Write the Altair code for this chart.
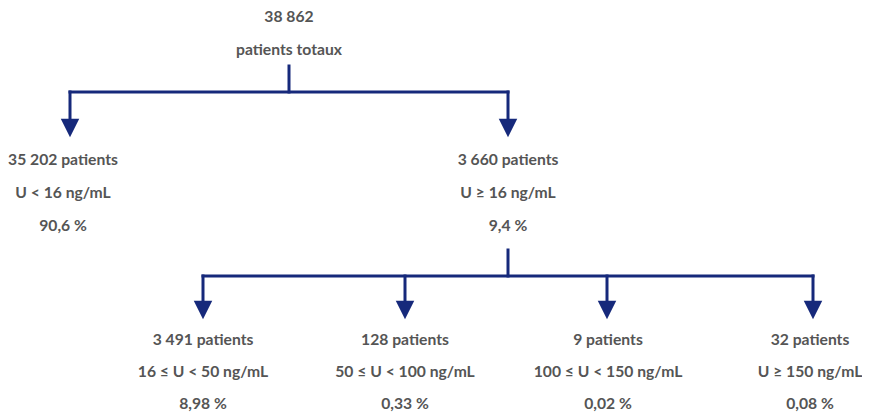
import altair as alt
import pandas as pd

# ---- data ----
root_count = "38 862"
root_label = "patients totaux"

level1_counts = ["35 202 patients", "3 660 patients"]
level1_ranges = ["U < 16 ng/mL", "U ≥ 16 ng/mL"]
level1_pcts = ["90,6 %", "9,4 %"]

level2_counts = ["3 491 patients", "128 patients", "9 patients", "32 patients"]
level2_ranges = ["16 ≤ U < 50 ng/mL", "50 ≤ U < 100 ng/mL", "100 ≤ U < 150 ng/mL", "U ≥ 150 ng/mL"]
level2_pcts = ["8,98 %", "0,33 %", "0,02 %", "0,08 %"]

# ---- layout (pixel-like coordinates of the diagram) ----
root_x = 289
l1_arrow_x = [70, 508]
l1_text_x = [63, 508]
l2_arrow_x = [203, 405, 607, 813]
l2_text_x = [203, 405, 608, 810]

root_text_y = [17, 50]
l1_text_y = [160, 193, 226]
l2_text_y = [340, 372, 404]

LINE = "#16297b"
TXT = "#555555"

segs = []
segs.append((root_x, 66, root_x, 92))
segs.append((l1_arrow_x[0], 92, l1_arrow_x[1], 92))
for x in l1_arrow_x:
    segs.append((x, 92, x, 119))
segs.append((l1_arrow_x[1], 250, l1_arrow_x[1], 276))
segs.append((l2_arrow_x[0], 276, l2_arrow_x[-1], 276))
for x in l2_arrow_x:
    segs.append((x, 276, x, 301))
seg_df = pd.DataFrame(segs, columns=["x", "y", "x2", "y2"])

heads = [(x, 128) for x in l1_arrow_x] + [(x, 310) for x in l2_arrow_x]
head_df = pd.DataFrame(heads, columns=["x", "y"])

texts = [(root_x, root_text_y[0], root_count), (root_x, root_text_y[1], root_label)]
for i, x in enumerate(l1_text_x):
    for y, t in zip(l1_text_y, [level1_counts[i], level1_ranges[i], level1_pcts[i]]):
        texts.append((x, y, t))
for i, x in enumerate(l2_text_x):
    for y, t in zip(l2_text_y, [level2_counts[i], level2_ranges[i], level2_pcts[i]]):
        texts.append((x, y, t))
text_df = pd.DataFrame(texts, columns=["x", "y", "label"])

xs = alt.Scale(domain=[8, 862], nice=False, zero=False)
ys = alt.Scale(domain=[8, 412], nice=False, zero=False, reverse=True)

rules = alt.Chart(seg_df).mark_rule(color=LINE, strokeWidth=3, strokeCap="square").encode(
    x=alt.X("x:Q", scale=xs, axis=None),
    y=alt.Y("y:Q", scale=ys, axis=None),
    x2="x2:Q",
    y2="y2:Q",
)

arrows = alt.Chart(head_df).mark_point(
    shape="M-1,-1L1,-1L0,1Z", size=340, filled=True, color=LINE, opacity=1, strokeWidth=0
).encode(
    x=alt.X("x:Q", scale=xs, axis=None),
    y=alt.Y("y:Q", scale=ys, axis=None),
)

labels = alt.Chart(text_df).mark_text(
    font="Lato", fontWeight="bold", fontSize=15.7, color=TXT, baseline="middle", align="center"
).encode(
    x=alt.X("x:Q", scale=xs, axis=None),
    y=alt.Y("y:Q", scale=ys, axis=None),
    text="label:N",
)

chart = alt.layer(rules, arrows, labels).properties(
    width=854, height=404,
    autosize=alt.AutoSizeParams(type="none"),
    padding=0,
    background="white",
).configure_view(stroke=None)

chart.save("out.html", embed_options={"renderer": "svg", "actions": False})
